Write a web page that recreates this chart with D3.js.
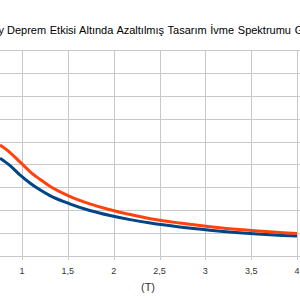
<!DOCTYPE html>
<html>
<head>
<meta charset="utf-8">
<script src="https://cdn.jsdelivr.net/npm/d3@7"></script>
<style>
  body { margin: 0; background: #fff; }
  svg { display: block; }
</style>
</head>
<body>
<script>
    // periods (T)
    var periods = [0.76, 0.87, 0.98, 1.09, 1.2, 1.3, 1.52, 1.74, 1.96, 2.18, 2.4, 2.72, 3.05, 4.0];
    var orangeValues = [0.485, 0.452, 0.410, 0.368, 0.334, 0.306, 0.261, 0.228, 0.202, 0.181, 0.163, 0.144, 0.128, 0.098];
    var blueValues = [0.427, 0.395, 0.353, 0.318, 0.288, 0.265, 0.228, 0.199, 0.177, 0.159, 0.144, 0.127, 0.113, 0.087];
    var xTicks = [1, 1.5, 2, 2.5, 3, 3.5, 4];
    var yTicks = [0, 0.1, 0.2, 0.3, 0.4, 0.5, 0.6, 0.7, 0.8, 0.9];
    var titleHidden = "Yatay";
    var titleText = "Deprem Etkisi Altında Azaltılmış Tasarım İvme Spektrumu Grafiği";
    var xLabel = "(T)";

    var width = 300, height = 300;
    var svg = d3.select("body").append("svg")
        .attr("width", width)
        .attr("height", height)
        .attr("font-family", "'Liberation Sans', Arial, sans-serif");

    var x = d3.scaleLinear().domain([1, 4]).range([22, 297]);
    var y = d3.scaleLinear().domain([0, 0.9]).range([256, 50]);

    // grid
    svg.append("g").selectAll("line")
        .data(yTicks)
        .enter().append("line")
            .attr("x1", 0).attr("x2", width)
            .attr("y1", function(d) { return Math.round(y(d)) + 0.5; })
            .attr("y2", function(d) { return Math.round(y(d)) + 0.5; })
            .style("stroke", "#c8c8c8")
            .style("stroke-width", 1);

    svg.append("g").selectAll("line")
        .data(xTicks)
        .enter().append("line")
            .attr("x1", function(d) { return Math.round(x(d)) + 0.5; })
            .attr("x2", function(d) { return Math.round(x(d)) + 0.5; })
            .attr("y1", y(0.9)).attr("y2", y(0) + 4)
            .style("stroke", "#c8c8c8")
            .style("stroke-width", 1);

    // tick labels
    svg.append("g").selectAll("text")
        .data(xTicks)
        .enter().append("text")
            .attr("x", function(d) { return x(d); })
            .attr("y", 274)
            .attr("text-anchor", "middle")
            .attr("font-size", "9px")
            .attr("fill", "#333")
            .text(function(d) { return String(d).replace(".", ","); });

    svg.append("text")
        .attr("x", 148).attr("y", 291)
        .attr("text-anchor", "middle")
        .attr("font-size", "11px")
        .attr("fill", "#333")
        .text(xLabel);

    // title (cut off at both sides like the reference)
    svg.append("text")
        .attr("x", 4).attr("y", 34)
        .attr("text-anchor", "end")
        .attr("font-size", "11px")
        .text(titleHidden);
    svg.append("text")
        .attr("x", 7).attr("y", 34)
        .attr("font-size", "11px")
        .attr("word-spacing", "0.6px")
        .text(titleText);

    // curves
    var line = d3.line()
        .x(function(d) { return x(d[0]); })
        .y(function(d) { return y(d[1]); })
        .curve(d3.curveMonotoneX);

    var series = [
        { color: "#004586", values: blueValues },
        { color: "#ff420e", values: orangeValues }
    ];

    svg.append("g").selectAll("path")
        .data(series)
        .enter().append("path")
            .attr("d", function(s) { return line(periods.map(function(t, i) { return [t, s.values[i]]; })); })
            .style("fill", "none")
            .style("stroke", function(s) { return s.color; })
            .style("stroke-width", 3)
            .style("stroke-linejoin", "round");
</script>
</body>
</html>
